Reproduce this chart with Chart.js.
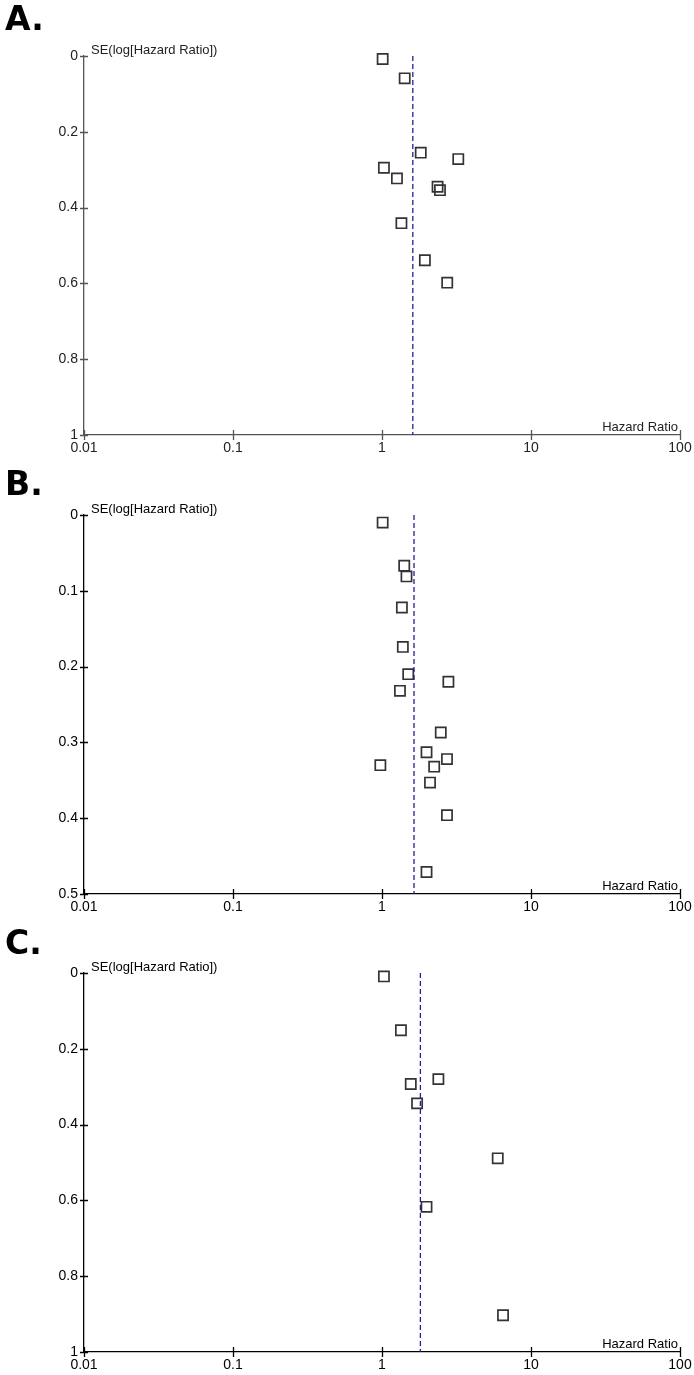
<!DOCTYPE html>
<html>
<head>
<meta charset="utf-8">
<title>Funnel plots</title>
<script src="https://cdn.jsdelivr.net/npm/chart.js@4.4.0/dist/chart.umd.min.js"></script>
<style>
  body { margin: 0; background: #fff; }
  canvas { position: absolute; left: 0; }
</style>
</head>
<body>
<canvas id="chartA" width="694" height="458" style="top:0px"></canvas>
<canvas id="chartB" width="694" height="458" style="top:459px"></canvas>
<canvas id="chartC" width="694" height="458" style="top:917px"></canvas>
<script>
// Hazard ratio axis, same for all three panels
const hrTicks = [0.01, 0.1, 1, 10, 100];
const hrTickLabels = ['0.01', '0.1', '1', '10', '100'];

// Panel A
const hrA = [1.01, 1.42, 1.82, 3.25, 1.03, 1.26, 2.36, 2.45, 1.35, 1.94, 2.74];
const seA = [0.008, 0.059, 0.255, 0.272, 0.295, 0.323, 0.345, 0.354, 0.441, 0.539, 0.598];
const pooledA = 1.61;
const seTicksA = [0, 0.2, 0.4, 0.6, 0.8, 1];
const seTickLabelsA = ['0', '0.2', '0.4', '0.6', '0.8', '1'];

// Panel B
const hrB = [1.01, 1.41, 1.46, 1.36, 1.38, 1.50, 2.79, 1.32, 2.48, 1.99, 2.73, 0.975, 2.24, 2.10, 2.73, 1.99];
const seB = [0.010, 0.067, 0.081, 0.122, 0.174, 0.210, 0.220, 0.232, 0.287, 0.313, 0.322, 0.330, 0.332, 0.353, 0.396, 0.471];
const pooledB = 1.64;
const seTicksB = [0, 0.1, 0.2, 0.3, 0.4, 0.5];
const seTickLabelsB = ['0', '0.1', '0.2', '0.3', '0.4', '0.5'];

// Panel C
const hrC = [1.03, 1.34, 2.39, 1.56, 1.72, 5.98, 1.99, 6.49];
const seC = [0.009, 0.151, 0.280, 0.293, 0.344, 0.489, 0.617, 0.903];
const pooledC = 1.81;
const seTicksC = [0, 0.2, 0.4, 0.6, 0.8, 1];
const seTickLabelsC = ['0', '0.2', '0.4', '0.6', '0.8', '1'];

// draws panel letter, axis titles and the tick marks that cross the axes
const funnelDecor = {
    id: 'funnelDecor',
    afterDraw(chart, args, opts) {
        const ctx = chart.ctx;
        const xs = chart.scales.x;
        const ys = chart.scales.y;
        const area = chart.chartArea;
        ctx.save();
        ctx.strokeStyle = opts.axisColor;
        ctx.lineWidth = 1.3;
        ctx.beginPath();
        xs.ticks.forEach(t => {
            const px = Math.round(xs.getPixelForValue(t.value)) + 0.5;
            ctx.moveTo(px, area.bottom - 5);
            ctx.lineTo(px, area.bottom + 5);
        });
        ys.ticks.forEach(t => {
            const py = Math.round(ys.getPixelForValue(t.value)) + 0.5;
            ctx.moveTo(area.left - 4, py);
            ctx.lineTo(area.left + 4, py);
        });
        ctx.stroke();

        ctx.fillStyle = '#000';
        ctx.font = 'bold 33px "DejaVu Sans"';
        ctx.textAlign = 'left';
        ctx.textBaseline = 'alphabetic';
        ctx.fillText(opts.letter, 5, opts.letterBaseline);

        ctx.fillStyle = opts.textColor;
        ctx.font = '13px "Liberation Sans"';
        ctx.fillText('SE(log[Hazard Ratio])', area.left + 7, area.top - 2);
        ctx.textAlign = 'right';
        ctx.fillText('Hazard Ratio', area.right - 2, area.bottom - 4);
        ctx.restore();
    }
};

function makeFunnel(canvasId, letter, letterBaseline, hr, se, pooled, seTicks, seTickLabels, axisColor, textColor) {
    const points = hr.map((v, i) => ({ x: v, y: se[i] }));
    const seMax = seTicks[seTicks.length - 1];
    return new Chart(document.getElementById(canvasId), {
        type: 'scatter',
        data: {
            datasets: [{
                data: [{ x: pooled, y: 0 }, { x: pooled, y: seMax }],
                showLine: true,
                borderColor: '#1f1f96',
                borderWidth: 1.3,
                borderDash: [5, 3],
                pointRadius: 0,
                clip: false
            }, {
                data: points,
                pointStyle: 'rect',
                pointRadius: 7.2,
                borderColor: '#333',
                backgroundColor: 'rgba(0,0,0,0)',
                borderWidth: 1.7,
                clip: false
            }]
        },
        options: {
            responsive: false,
            animation: false,
            devicePixelRatio: 1,
            layout: { padding: { left: 0, right: 14, top: 56, bottom: 0 } },
            plugins: {
                legend: { display: false },
                tooltip: { enabled: false },
                funnelDecor: { letter: letter, letterBaseline: letterBaseline, axisColor: axisColor, textColor: textColor }
            },
            scales: {
                x: {
                    type: 'logarithmic',
                    min: hrTicks[0],
                    max: hrTicks[hrTicks.length - 1],
                    afterBuildTicks: axis => { axis.ticks = hrTicks.map(v => ({ value: v })); },
                    afterFit: axis => {
                        axis.height = 23;
                        axis.paddingLeft = 10;
                        axis.paddingRight = 10;
                    },
                    grid: { display: false, drawTicks: false },
                    border: { display: true, color: axisColor, width: 1.3 },
                    ticks: {
                        autoSkip: false,
                        maxRotation: 0,
                        padding: 5,
                        color: textColor,
                        font: { family: 'Liberation Sans', size: 14 },
                        callback: (v, i) => hrTickLabels[i]
                    }
                },
                y: {
                    type: 'linear',
                    reverse: true,
                    min: 0,
                    max: seMax,
                    afterBuildTicks: axis => { axis.ticks = seTicks.map(v => ({ value: v })); },
                    afterFit: axis => { axis.width = 84; },
                    grid: { display: false, drawTicks: false },
                    border: { display: true, color: axisColor, width: 1.3 },
                    ticks: {
                        padding: 6,
                        color: textColor,
                        font: { family: 'Liberation Sans', size: 14 },
                        callback: (v, i) => seTickLabels[i]
                    }
                }
            }
        },
        plugins: [funnelDecor]
    });
}

makeFunnel('chartA', 'A.', 30, hrA, seA, pooledA, seTicksA, seTickLabelsA, '#555', '#222');
makeFunnel('chartB', 'B.', 36, hrB, seB, pooledB, seTicksB, seTickLabelsB, '#000', '#000');
makeFunnel('chartC', 'C.', 37, hrC, seC, pooledC, seTicksC, seTickLabelsC, '#000', '#000');
</script>
</body>
</html>
